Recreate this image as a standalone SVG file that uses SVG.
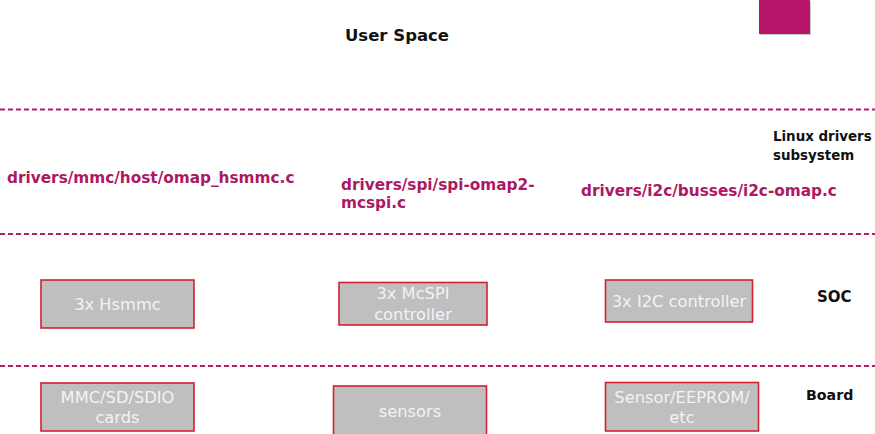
<svg xmlns="http://www.w3.org/2000/svg" width="875" height="434" viewBox="0 0 875 434">
<style>
.sep{stroke:#b0246a;stroke-width:2;stroke-dasharray:5 3;fill:none}
.box{fill:#bfbfbf;stroke:#d42030;stroke-width:1.6}
.bt{font-family:"DejaVu Sans",sans-serif;font-size:16.3px;fill:#f3f3f3;text-anchor:middle}
.lbl{font-family:"DejaVu Sans",sans-serif;font-weight:bold;font-size:13.4px;fill:#111}
.path{font-family:"DejaVu Sans",sans-serif;font-weight:bold;font-size:15.3px;fill:#ad1862}
</style>
<rect width="875" height="434" fill="#fff"/>
<rect x="760" y="1" width="51" height="34" fill="#9a9a9a" opacity="0.5"/>
<rect x="759" y="0" width="51" height="34" fill="#b7166a"/>
<text x="397" y="41" font-family="DejaVu Sans,sans-serif" font-weight="bold" font-size="16.5" fill="#111" text-anchor="middle">User Space</text>
<g id="connectors">
<line class="sep" x1="0" y1="109.5" x2="875" y2="109.5"/>
<line class="sep" x1="0" y1="234" x2="875" y2="234"/>
<line class="sep" x1="0" y1="366" x2="875" y2="366"/>
</g>
<text class="lbl" x="773" y="141">Linux drivers</text>
<text class="lbl" x="773" y="160">subsystem</text>
<text class="lbl" x="817" y="302" style="font-size:15px">SOC</text>
<text class="lbl" x="806" y="400" style="font-size:14.2px">Board</text>
<g id="drv-mmc"><text class="path" x="7" y="183">drivers/mmc/host/omap_hsmmc.c</text></g>
<g id="drv-spi"><text class="path" x="341" y="190">drivers/spi/spi-omap2-</text><text class="path" x="341" y="208">mcspi.c</text></g>
<g id="drv-i2c"><text class="path" x="581" y="196">drivers/i2c/busses/i2c-omap.c</text></g>
<g id="hsmmc"><rect class="box" x="41" y="280" width="153" height="48"/><text class="bt" x="117.5" y="310">3x Hsmmc</text></g>
<g id="mcspi"><rect class="box" x="339" y="282.5" width="148" height="42.5"/><text class="bt" x="413" y="299">3x McSPI</text><text class="bt" x="413" y="320">controller</text></g>
<g id="i2c"><rect class="box" x="605.5" y="280" width="147" height="42"/><text class="bt" x="679" y="307">3x I2C controller</text></g>
<g id="mmccards"><rect class="box" x="41" y="383" width="153" height="48"/><text class="bt" x="117.5" y="403">MMC/SD/SDIO</text><text class="bt" x="117.5" y="423">cards</text></g>
<g id="sensors"><rect class="box" x="333.5" y="386" width="153" height="52"/><text class="bt" x="410" y="417">sensors</text></g>
<g id="eeprom"><rect class="box" x="605.5" y="382.5" width="153" height="48.5"/><text class="bt" x="682" y="403">Sensor/EEPROM/</text><text class="bt" x="682" y="423">etc</text></g>
</svg>
